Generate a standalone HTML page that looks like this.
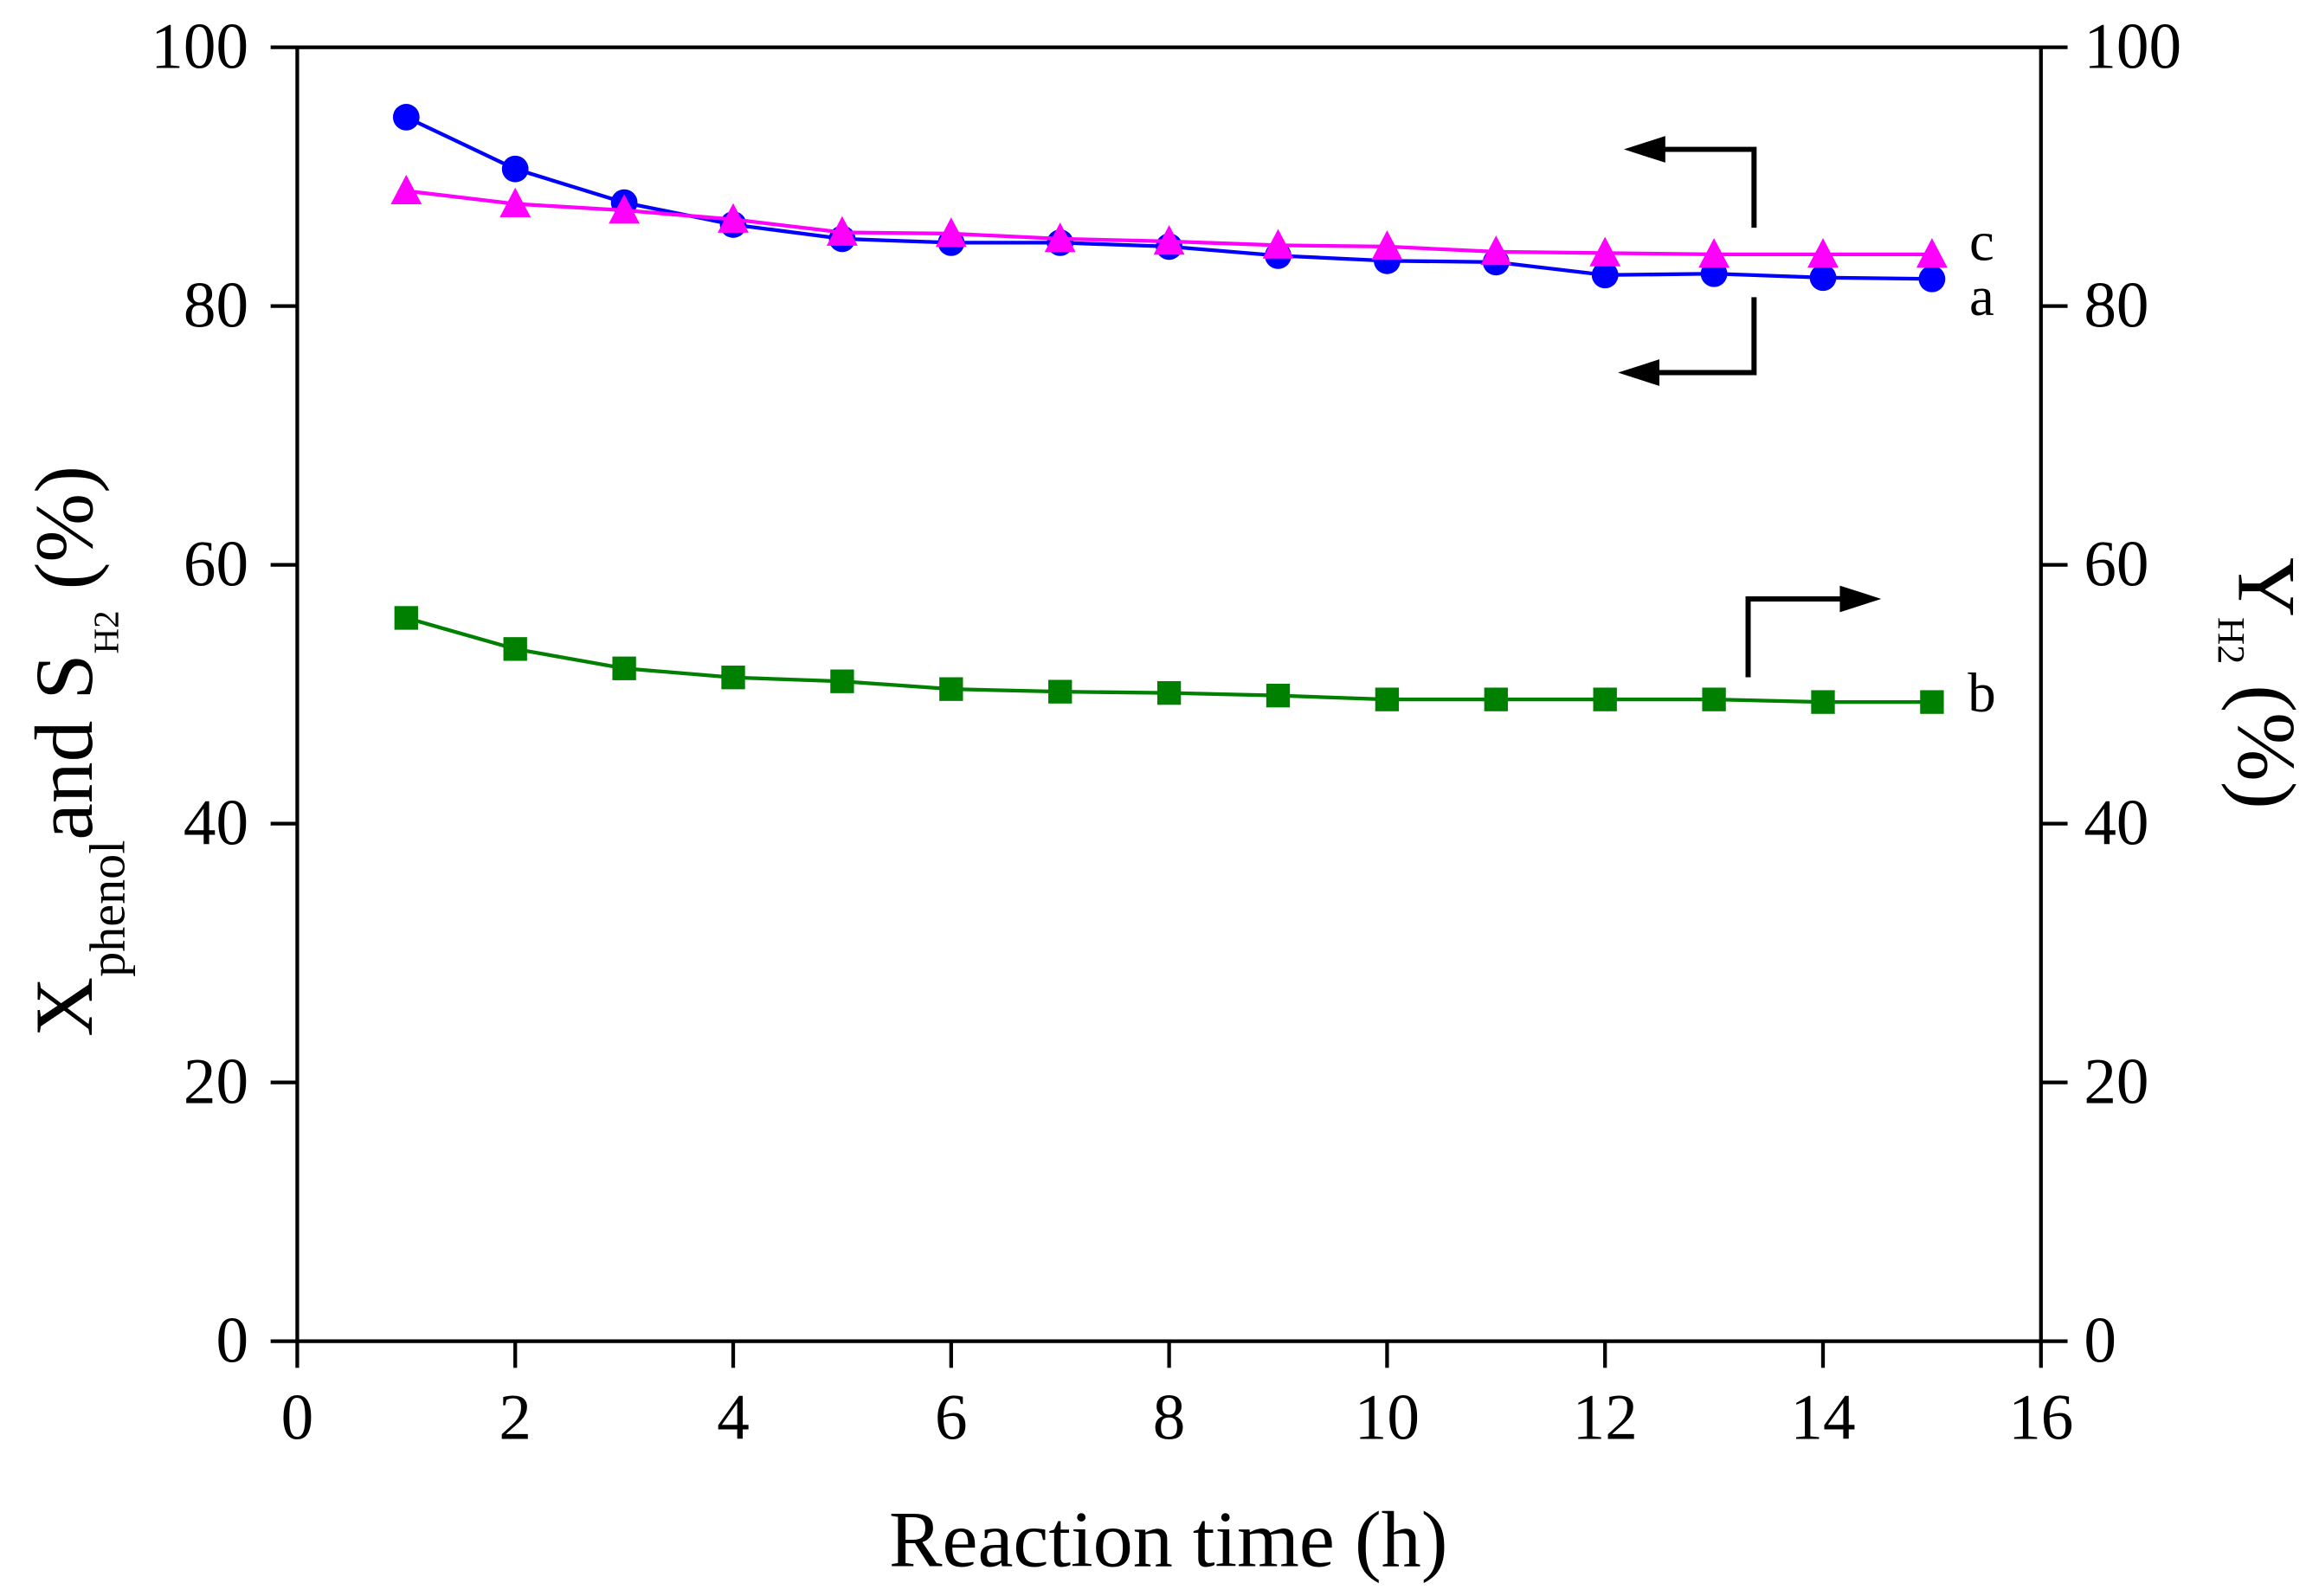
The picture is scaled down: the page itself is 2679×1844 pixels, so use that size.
<!DOCTYPE html>
<html><head><meta charset="utf-8">
<style>
html,body{margin:0;padding:0;background:#fff;}
svg{display:block;}
text{font-family:"Liberation Serif","DejaVu Serif",serif;fill:#000;}
</style></head>
<body>
<svg id="chart" width="2679" height="1844" viewBox="0 0 1568 1079.3" preserveAspectRatio="none" xmlns="http://www.w3.org/2000/svg">
  <g id="axes"></g>
  <g id="series"></g>
  <g id="annot">
    <polyline points="1186,154 1186,101 1120,101" fill="none" stroke="#000" stroke-width="3.5"/>
    <polygon points="1098,101 1126,92 1126,110" fill="#000"/>
    <polyline points="1186,201 1186,252 1116,252" fill="none" stroke="#000" stroke-width="3.5"/>
    <polygon points="1094,252 1122,243 1122,261" fill="#000"/>
    <polyline points="1182,458 1182,405 1250,405" fill="none" stroke="#000" stroke-width="3.5"/>
    <polygon points="1272,405 1244,396 1244,414" fill="#000"/>
    <text x="1340" y="176" font-size="38" text-anchor="middle">c</text>
    <text x="1340" y="213" font-size="38" text-anchor="middle">a</text>
    <text x="1340" y="481" font-size="38" text-anchor="middle">b</text>
  </g>
  <text x="790" y="1059" font-size="54" text-anchor="middle">Reaction time (h)</text>
  <text transform="translate(62,508) rotate(-90)" font-size="56" text-anchor="middle">X<tspan font-size="34" dy="22">phenol</tspan><tspan dy="-22">and S</tspan><tspan font-size="24" dy="18">H2</tspan><tspan dy="-18"> (%)</tspan></text>
  <text transform="translate(1514,462) rotate(90)" font-size="56" text-anchor="middle">Y<tspan font-size="26" dy="14">H2</tspan><tspan dy="-14"> (%)</tspan></text>
</svg>
<script>
const xTicks = [0,2,4,6,8,10,12,14,16];
const yTicks = [0,20,40,60,80,100];
const times = [1,2,3,4,5,6,7,8,9,10,11,12,13,14,15];
const seriesA = [94.6,90.6,88.0,86.3,85.2,84.9,84.9,84.6,83.9,83.5,83.4,82.4,82.5,82.2,82.1];
const seriesC = [88.9,87.9,87.4,86.7,85.7,85.6,85.2,85.0,84.7,84.6,84.2,84.1,84.0,84.0,84.0];
const seriesB = [55.9,53.5,52.0,51.3,51.0,50.4,50.2,50.1,49.9,49.6,49.6,49.6,49.6,49.4,49.4];

const NS='http://www.w3.org/2000/svg';
const L=201,R=1380,T=32,B=907;
const xs=v=>L+(v-0)/(16-0)*(R-L);
const ys=v=>B-(v-0)/(100-0)*(B-T);
function mk(tag,attrs,parent){const e=document.createElementNS(NS,tag);for(const k in attrs)e.setAttribute(k,attrs[k]);parent.appendChild(e);return e;}
const axes=document.getElementById('axes');
let fr=mk('rect',{x:L,y:T,width:R-L,height:B-T,fill:'none',stroke:'#000','stroke-width':2.5},axes);


xTicks.forEach(t=>{
  const tk=mk('line',{x1:xs(t),x2:xs(t),y1:B,y2:B+18,stroke:'#000','stroke-width':2.5},axes);
  
  
  const lb=mk('text',{x:xs(t),y:973,'font-size':44,'text-anchor':'middle'},axes);
  lb.textContent=t;
  
  
});
yTicks.forEach(t=>{
  const tl=mk('line',{x1:L-18,x2:L,y1:ys(t),y2:ys(t),stroke:'#000','stroke-width':2.5},axes);
  
  
  const ll=mk('text',{x:168,y:ys(t)+14,'font-size':44,'text-anchor':'end'},axes);
  ll.textContent=t;
  
  
  const tr=mk('line',{x1:R,x2:R+18,y1:ys(t),y2:ys(t),stroke:'#000','stroke-width':2.5},axes);
  
  
  const rl=mk('text',{x:1409,y:ys(t)+14,'font-size':44,'text-anchor':'start'},axes);
  rl.textContent=t;
  
  
});
const sg=document.getElementById('series');
function drawSeries(vals,color,shape,name){
  const pts=times.map((t,i)=>xs(t)+','+ys(vals[i])).join(' ');
  const pl=mk('polyline',{points:pts,fill:'none',stroke:color,'stroke-width':2.5},sg);
  
  
  times.forEach((t,i)=>{
    const x=xs(t),y=ys(vals[i]);let m;
    if(shape==='circle') m=mk('ellipse',{cx:x,cy:y,rx:9,ry:9,fill:color},sg);
    else if(shape==='tri') m=mk('polygon',{points:(x)+','+(y-11)+' '+(x-10.5)+','+(y+9)+' '+(x+10.5)+','+(y+9),fill:color},sg);
    else m=mk('rect',{x:x-8,y:y-8,width:16,height:16,fill:color},sg);
    
    
  });
}
drawSeries(seriesB,'#008000','square','series-b');
drawSeries(seriesA,'#0000ff','circle','series-a');
drawSeries(seriesC,'#ff00ff','tri','series-c');
</script>
</body></html>
